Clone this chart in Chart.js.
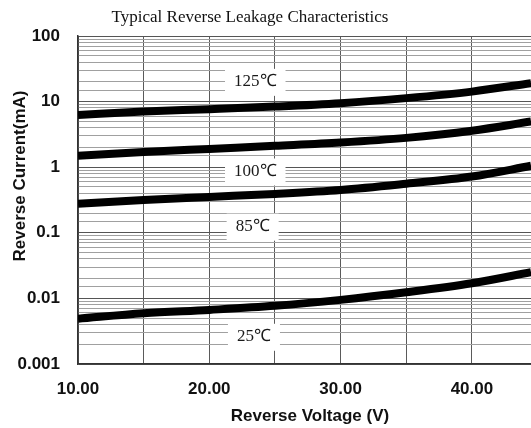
<!DOCTYPE html>
<html>
<head>
<meta charset="utf-8">
<script src="https://cdn.jsdelivr.net/npm/chart.js@4/dist/chart.umd.min.js"></script>
<style>
  html, body { margin: 0; padding: 0; background: #fff; }
  #wrap { width: 531px; height: 428px; }
</style>
</head>
<body>
<div id="wrap"><canvas id="leakage" width="531" height="428"></canvas></div>
<script>
// Reverse voltage (V) sample points
const voltage = [10, 15, 20, 25, 30, 35, 40, 44.5];

// Reverse current (mA) per junction temperature
const current125 = [6.27, 7.05, 7.66, 8.4, 9.46, 11.3, 14.2, 19.1];
const current100 = [1.49, 1.70, 1.90, 2.12, 2.38, 2.80, 3.60, 4.96];
const current85 = [0.276, 0.315, 0.352, 0.392, 0.45, 0.56, 0.72, 1.05];
const current25 = [0.0049, 0.00594, 0.00668, 0.0077, 0.0095, 0.0124, 0.017, 0.0251];

// Curve labels and where they sit (data units)
const curveLabels = ['125\u2103', '100\u2103', '85\u2103', '25\u2103'];
const labelVoltage = [23.5, 23.5, 23.3, 23.4];
const labelCurrent = [20, 0.86, 0.124, 0.0026];

// Axis tick labels
const xTickLabels = ['10.00', '20.00', '30.00', '40.00'];
const yTickLabels = ['0.001', '0.01', '0.1', '1', '10', '100'];

const sansBold = { family: 'Liberation Sans, Arial, sans-serif', size: 17, weight: 'bold' };

function decadeIndex(v) {
  const e = Math.log10(v);
  const r = Math.round(e);
  return Math.abs(e - r) < 1e-6 ? r + 3 : -1;
}

function toPoints(ys) {
  return voltage.map((x, i) => ({ x: x, y: ys[i] }));
}

// Draws title, axis titles and the boxed curve labels
const textPlugin = {
  id: 'textPlugin',
  beforeDatasetsDraw(chart) {
    const { ctx, scales } = chart;
    ctx.save();
    ctx.font = '17px "Liberation Serif", "Times New Roman", serif';
    ctx.textAlign = 'center';
    ctx.textBaseline = 'middle';
    curveLabels.forEach((txt, i) => {
      const px = scales.x.getPixelForValue(labelVoltage[i]);
      const py = scales.y.getPixelForValue(labelCurrent[i]);
      const w = ctx.measureText(txt).width + 18;
      ctx.fillStyle = '#fff';
      ctx.fillRect(px - w / 2, py - 13, w, 27);
      ctx.fillStyle = '#1a1a1a';
      ctx.fillText(txt, px, py);
    });
    ctx.restore();
  },
  afterDraw(chart) {
    const { ctx } = chart;
    ctx.save();
    ctx.fillStyle = '#111';
    ctx.textAlign = 'center';
    ctx.textBaseline = 'middle';

    ctx.font = '17px "Liberation Serif", "Times New Roman", serif';
    ctx.fillText('Typical Reverse Leakage Characteristics', 250, 18);

    ctx.font = 'bold 17px "Liberation Sans", Arial, sans-serif';
    ctx.fillText('Reverse Voltage (V)', 310, 416);

    ctx.translate(20, 176);
    ctx.rotate(-Math.PI / 2);
    ctx.fillText('Reverse Current(mA)', 0, 0);
    ctx.restore();
  }
};

const series = [current125, current100, current85, current25];

new Chart(document.getElementById('leakage'), {
  type: 'line',
  data: {
    datasets: series.map(s => ({
      data: toPoints(s),
      borderColor: '#000',
      borderWidth: 8,
      pointRadius: 0,
      cubicInterpolationMode: 'monotone',
      fill: false
    }))
  },
  options: {
    responsive: false,
    animation: false,
    layout: { padding: { top: 36, left: 0, right: 0, bottom: 0 } },
    plugins: {
      legend: { display: false },
      tooltip: { enabled: false }
    },
    scales: {
      x: {
        type: 'linear',
        min: 10,
        max: 44.5,
        afterFit: scale => { scale.height = 64; },
        afterBuildTicks: scale => {
          scale.ticks = scale.ticks.filter(t => t.value % 5 === 0);
        },
        border: { color: '#333', width: 1.5 },
        grid: { color: '#5a5a5a', lineWidth: 1, drawTicks: false },
        ticks: {
          stepSize: 5,
          autoSkip: false,
          maxRotation: 0,
          padding: 15,
          color: '#111',
          font: sansBold,
          callback: v => (v % 10 === 0 ? xTickLabels[(v - 10) / 10] : '')
        }
      },
      y: {
        type: 'logarithmic',
        min: 0.001,
        max: 100,
        afterFit: scale => { scale.width = 78; },
        border: { color: '#333', width: 1.5 },
        grid: {
          drawTicks: false,
          lineWidth: 1,
          color: c => (c.tick && decadeIndex(c.tick.value) >= 0 ? '#555' : '#a0a0a0')
        },
        ticks: {
          autoSkip: false,
          padding: 18,
          color: '#111',
          font: sansBold,
          callback: v => {
            const k = decadeIndex(v);
            return k >= 0 ? yTickLabels[k] : '';
          }
        }
      }
    }
  },
  plugins: [textPlugin]
});
</script>
</body>
</html>
